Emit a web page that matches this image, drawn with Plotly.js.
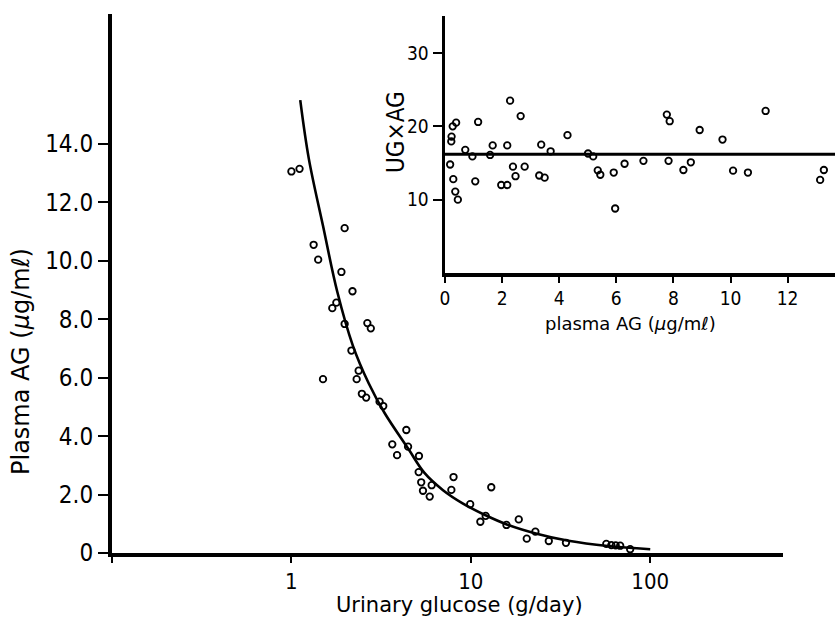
<!DOCTYPE html>
<html>
<head>
<meta charset="utf-8">
<script src="https://cdn.plot.ly/plotly-3.0.1.min.js"></script>
<style>html,body{margin:0;padding:0;background:#fff;}</style>
</head>
<body>
<div id="chart" style="width:835px;height:618px;"></div>
<script>
// Main panel: urinary glucose (g/day) vs plasma AG (µg/ml)
const urinaryGlucose = [1.00, 1.11, 1.33, 1.41, 1.50, 1.69, 1.78, 1.90, 1.98, 1.98,
  2.16, 2.19, 2.31, 2.37, 2.47, 2.61, 2.65, 2.77, 3.10, 3.25,
  3.65, 3.88, 4.37, 4.47, 5.12, 5.14, 5.29, 5.41, 5.90, 6.05,
  7.79, 8.01, 9.92, 11.3, 12.1, 13.0, 15.8, 18.5, 20.5, 22.9,
  27.2, 33.9, 56.9, 60.7, 64.2, 68.0, 77.3];
const plasmaAG = [13.06, 13.15, 10.55, 10.04, 5.95, 8.38, 8.57, 9.62, 11.12, 7.84,
  6.93, 8.96, 5.95, 6.24, 5.45, 5.32, 7.87, 7.69, 5.18, 5.03,
  3.72, 3.35, 4.21, 3.64, 2.77, 3.32, 2.42, 2.13, 1.93, 2.32,
  2.16, 2.60, 1.67, 1.07, 1.27, 2.25, 0.96, 1.15, 0.49, 0.73,
  0.41, 0.35, 0.31, 0.27, 0.26, 0.25, 0.13];
// Fitted curve
const curveUG = [1.12, 1.25, 1.5, 1.8, 2.2, 2.7, 3.3, 4.5, 5.5, 7, 9, 12, 16, 23, 35, 58, 100];
const curveAG = [15.5, 13.5, 11.2, 8.95, 7.1, 5.8, 4.8, 3.55, 2.75, 2.15, 1.7, 1.3, 0.97, 0.67, 0.42, 0.24, 0.13];
const mainYTicks = [0, 2, 4, 6, 8, 10, 12, 14];
const mainYLabels = ['0', '2.0', '4.0', '6.0', '8.0', '10.0', '12.0', '14.0'];
const mainXTicks = [0.1, 1, 10, 100];
const mainXLabels = ['', '1', '10', '100'];

// Inset: plasma AG vs UG x AG
const insetAG = [0.18, 0.22, 0.23, 0.27, 0.39, 0.29, 0.36, 0.45, 0.71, 0.96,
  1.06, 1.16, 1.58, 1.67, 1.97, 2.18, 2.18, 2.28, 2.38, 2.47,
  2.65, 2.79, 3.30, 3.37, 3.49, 3.70, 4.29, 5.01, 5.19, 5.35,
  5.44, 5.91, 5.96, 6.29, 6.95, 7.77, 7.87, 7.83, 8.35, 8.61,
  8.92, 9.72, 10.09, 10.61, 11.23, 13.14, 13.27];
const insetProduct = [14.8, 17.95, 18.6, 20.0, 20.5, 12.8, 11.1, 10.0, 16.8, 15.9,
  12.5, 20.6, 16.1, 17.4, 12.0, 12.0, 17.4, 23.5, 14.5, 13.2,
  21.4, 14.5, 13.3, 17.5, 13.0, 16.6, 18.8, 16.3, 15.9, 14.0,
  13.4, 13.7, 8.8, 14.9, 15.3, 21.6, 20.7, 15.3, 14.05, 15.1,
  19.5, 18.2, 13.96, 13.7, 22.1, 12.7, 14.05];
const meanLineX = [0, 13.66];
const meanLineY = [16.2, 16.2];
const insetXTicks = [0, 2, 4, 6, 8, 10, 12];
const insetYTicks = [10, 20, 30];

const COND = 'DejaVu Sans Condensed, Liberation Sans Narrow, DejaVu Sans, sans-serif';
const NORM = 'DejaVu Sans, sans-serif';

const marker = {symbol: 'circle-open', size: 6.5, color: '#000', line: {width: 1.8, color: '#000'}};

const traces = [
  {x: urinaryGlucose, y: plasmaAG, mode: 'markers', type: 'scatter', marker: marker, xaxis: 'x', yaxis: 'y', cliponaxis: false},
  {x: curveUG, y: curveAG, mode: 'lines', type: 'scatter', line: {color: '#000', width: 2.6, shape: 'spline'}, xaxis: 'x', yaxis: 'y'},
  {x: insetAG, y: insetProduct, mode: 'markers', type: 'scatter', marker: marker, xaxis: 'x2', yaxis: 'y2'},
  {x: meanLineX, y: meanLineY, mode: 'lines', type: 'scatter', line: {color: '#000', width: 3}, xaxis: 'x2', yaxis: 'y2'}
];

const W = 723, H = 539, L = 112, B = 553;
function px(x) { return (x - L) / W; }
function py(y) { return (B - y) / H; }

const layout = {
  width: 835, height: 618,
  margin: {l: 112, r: 0, t: 14, b: 65, pad: 0},
  paper_bgcolor: '#fff', plot_bgcolor: 'rgba(0,0,0,0)',
  showlegend: false,
  font: {family: COND, color: '#000'},
  xaxis: {
    type: 'log', range: [-1, 2.74], domain: [0, px(783)], anchor: 'y',
    showline: true, linecolor: '#000', linewidth: 3.5,
    ticks: 'outside', ticklen: 6, tickwidth: 2, tickcolor: '#000',
    tickmode: 'array', tickvals: mainXTicks, ticktext: mainXLabels,
    tickfont: {family: COND, size: 22, color: '#000'},
    showgrid: false, zeroline: false
  },
  yaxis: {
    range: [0, 18.45], domain: [0, 1], anchor: 'x',
    showline: true, linecolor: '#000', linewidth: 4,
    ticks: 'outside', ticklen: 10, tickwidth: 2, tickcolor: '#000',
    tickmode: 'array', tickvals: mainYTicks, ticktext: mainYLabels,
    tickfont: {family: COND, size: 24, color: '#000'},
    showgrid: false, zeroline: false
  },
  xaxis2: {
    range: [0, 13.66], domain: [px(445), 1], anchor: 'y2',
    showline: true, linecolor: '#000', linewidth: 3.5,
    ticks: 'outside', ticklen: 6, tickwidth: 2, tickcolor: '#000',
    tickmode: 'array', tickvals: insetXTicks,
    tickfont: {family: COND, size: 19, color: '#000'},
    showgrid: false, zeroline: false
  },
  yaxis2: {
    range: [0, 35.05], domain: [py(273), py(16)], anchor: 'x2',
    showline: true, linecolor: '#000', linewidth: 3.5,
    ticks: 'outside', ticklen: 9, tickwidth: 2, tickcolor: '#000',
    tickmode: 'array', tickvals: insetYTicks,
    tickfont: {family: COND, size: 19, color: '#000'},
    showgrid: false, zeroline: false
  },
  annotations: [
    {text: 'Urinary glucose (g/day)', xref: 'paper', yref: 'paper', x: px(459.5), y: py(605),
     xanchor: 'center', yanchor: 'middle', showarrow: false, font: {family: NORM, size: 21, color: '#000'}},
    {text: 'Plasma AG (<i>μ</i>g/mℓ)', xref: 'paper', yref: 'paper', x: px(21), y: py(362), textangle: -90,
     xanchor: 'center', yanchor: 'middle', showarrow: false, font: {family: NORM, size: 24, color: '#000'}},
    {text: 'plasma AG (<i>μ</i>g/mℓ)', xref: 'paper', yref: 'paper', x: px(630), y: py(323),
     xanchor: 'center', yanchor: 'middle', showarrow: false, font: {family: NORM, size: 18, color: '#000'}},
    {text: 'UG×AG', xref: 'paper', yref: 'paper', x: px(396), y: py(132), textangle: -90,
     xanchor: 'center', yanchor: 'middle', showarrow: false, font: {family: COND, size: 24, color: '#000'}}
  ]
};

Plotly.newPlot('chart', traces, layout, {staticPlot: true, displayModeBar: false});
</script>
</body>
</html>
